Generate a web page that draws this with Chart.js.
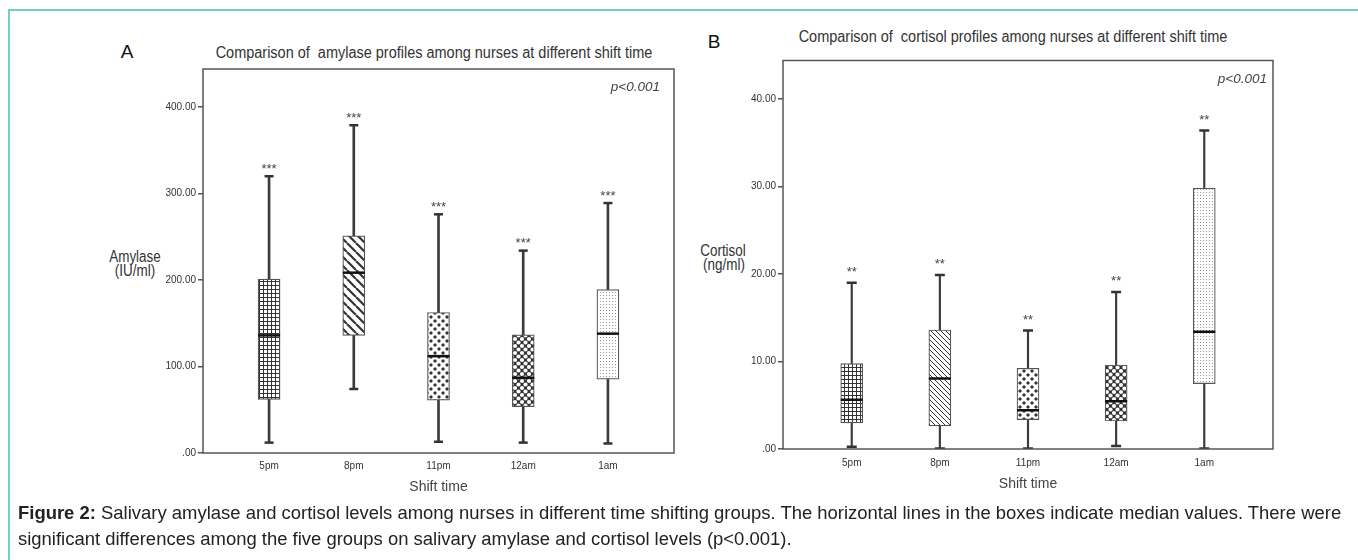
<!DOCTYPE html>
<html>
<head>
<meta charset="utf-8">
<script src="https://cdn.jsdelivr.net/npm/chart.js@4.4.1/dist/chart.umd.min.js"></script>
<style>
    body { margin: 0; background: #fff; width: 1358px; height: 560px; overflow: hidden; position: relative; font-family: "Liberation Sans", Arial, sans-serif; }
    .frame { position: absolute; left: 8px; top: 9px; width: 1400px; height: 600px; border-top: 2px solid #6cd3c4; border-left: 2px solid #6cd3c4; }
    .lbl { position: absolute; white-space: nowrap; transform: translate(-50%, -50%); color: #333; }
    .ttl { font-size: 16px; transform: translate(-50%, -50%) scaleX(0.905); }
    .ytl { font-size: 16px; transform: translate(-50%, -50%) scaleX(0.84); }
    .panel { font-size: 19px; color: #111; }
    canvas { position: absolute; }
    #caption { position: absolute; left: 18px; top: 500px; line-height: 26px; color: #222; white-space: nowrap; }
</style>
</head>
<body>
<div class="frame"></div>

<div class="lbl panel" style="left:127px; top:52px;">A</div>
<div class="lbl ttl" style="left:434px; top:53px;">Comparison of&nbsp; amylase profiles among nurses at different shift time</div>
<div class="lbl ytl" style="left:135px; top:257px;">Amylase</div>
<div class="lbl ytl" style="left:135px; top:271px;">(IU/ml)</div>

<div class="lbl panel" style="left:714px; top:42px;">B</div>
<div class="lbl ttl" style="left:1013px; top:37px;">Comparison of&nbsp; cortisol profiles among nurses at different shift time</div>
<div class="lbl ytl" style="left:723px; top:251px;">Cortisol</div>
<div class="lbl ytl" style="left:724px; top:265px;">(ng/ml)</div>

<canvas id="amylaseChart" width="600" height="470" style="left:95px; top:45px;"></canvas>
<canvas id="cortisolChart" width="620" height="480" style="left:680px; top:35px;"></canvas>

<div id="caption"><b>Figure 2:</b> Salivary amylase and cortisol levels among nurses in different time shifting groups. The horizontal lines in the boxes indicate median values. There were<br>significant differences among the five groups on salivary amylase and cortisol levels (p&lt;0.001).</div>

<script>
// 1. Data
const shifts = ['5pm', '8pm', '11pm', '12am', '1am'];

// A: salivary amylase (IU/ml)
const amyMin = [12, 74, 13, 12, 11];
const amyQ1 = [62, 136, 61, 53.5, 85.5];
const amyMedian = [136, 208.5, 112, 87, 138];
const amyQ3 = [201, 251, 162.5, 136.5, 189];
const amyMax = [320, 379, 276, 234, 289];
const amyTicks = [0, 100, 200, 300, 400];
const amyStars = ['***', '***', '***', '***', '***'];

// B: salivary cortisol (ng/ml)
const corMin = [0.26, 0.05, 0.05, 0.34, 0.05];
const corQ1 = [2.98, 2.64, 3.36, 3.2, 7.48];
const corMedian = [5.62, 8.05, 4.42, 5.45, 13.4];
const corQ3 = [9.77, 13.6, 9.22, 9.6, 29.8];
const corMax = [19.0, 19.9, 13.55, 17.95, 36.4];
const corTicks = [0, 10, 20, 30, 40];
const corStars = ['**', '**', '**', '**', '**'];

const SANS = '"Liberation Sans", Arial, sans-serif';

// 2. Hatch patterns (SPSS style fills)
function makePattern(kind, size) {
    const c = document.createElement('canvas');
    c.width = c.height = size;
    const g = c.getContext('2d');
    g.fillStyle = '#fff';
    g.fillRect(0, 0, size, size);
    g.fillStyle = g.strokeStyle = '#333';
    if (kind === 'grid') {
        g.fillRect(0, 0, size, 1);
        g.fillRect(0, 0, 1, size);
    } else if (kind === 'diag' || kind === 'diagFine') {
        g.lineWidth = kind === 'diag' ? 2.2 : 1;
        g.beginPath();
        for (let k = -1; k <= 1; k++) {
            g.moveTo(k * size, 0);
            g.lineTo(k * size + size, size);
        }
        g.stroke();
    } else if (kind === 'diamond') {
        const h = size / 4;
        [[0, 0], [size, 0], [0, size], [size, size], [size / 2, size / 2]].forEach(([px, py]) => {
            g.beginPath();
            g.moveTo(px, py - h); g.lineTo(px + h, py); g.lineTo(px, py + h); g.lineTo(px - h, py);
            g.closePath();
            g.fill();
        });
    } else if (kind === 'circles') {
        g.fillRect(0, 0, size, size);
        g.fillStyle = '#fff';
        [[0, 0], [size, 0], [0, size], [size, size], [size / 2, size / 2]].forEach(([px, py]) => {
            g.beginPath();
            g.arc(px, py, size * 0.3, 0, Math.PI * 2);
            g.fill();
        });
    } else if (kind === 'dots') {
        g.fillStyle = '#9a9a9a';
        g.fillRect(1, 1, 1, 1);
    }
    return g.createPattern(c, 'repeat');
}

// 3. Extra drawing: closed frame, significance stars, p value
const extrasPlugin = {
    id: 'extras',
    afterDatasetsDraw(chart, args, o) {
        const { ctx, chartArea: a, scales: { x, y } } = chart;
        ctx.save();
        ctx.strokeStyle = '#555';
        ctx.lineWidth = 1.5;
        ctx.strokeRect(a.left, a.top, a.width, a.height);

        ctx.fillStyle = '#444';
        ctx.textAlign = 'center';
        ctx.textBaseline = 'alphabetic';
        ctx.font = '13px ' + SANS;
        o.stars.forEach((s, i) => {
            ctx.fillText(s, x.getPixelForValue(i), y.getPixelForValue(o.max[i]) - o.starGap + 7.5);
        });

        ctx.textAlign = 'right';
        ctx.textBaseline = 'middle';
        ctx.font = 'italic 13.5px ' + SANS;
        ctx.fillText('p<0.001', a.right - o.pRight, a.top + 18.5);
        ctx.restore();
    }
};

// 4. Build one box plot panel
function boxPlot(canvasId, cfg) {
    const idx = shifts.map((s, i) => i);
    const at = arr => idx.map(i => ({ x: i, y: arr[i] }));

    return new Chart(document.getElementById(canvasId), {
        type: 'bar',
        data: {
            datasets: [
                { type: 'scatter', data: at(cfg.median), pointStyle: 'line', pointRadius: cfg.boxW / 2,
                  pointBorderWidth: 2.5, pointBorderColor: '#111', order: 0 },
                { type: 'scatter', data: at(cfg.min).concat(at(cfg.max)), pointStyle: 'line',
                  pointRadius: cfg.capW / 2, pointBorderWidth: cfg.capLw, pointBorderColor: '#333', order: 1 },
                { data: idx.map(i => ({ x: i, y: [cfg.q1[i], cfg.q3[i]] })), backgroundColor: cfg.fills,
                  borderColor: '#555', borderWidth: 1.2, borderSkipped: false, barThickness: cfg.boxW,
                  grouped: false, order: 2 },
                { data: idx.map(i => ({ x: i, y: [cfg.min[i], cfg.max[i]] })), backgroundColor: '#3c3c3c',
                  barThickness: cfg.whiskerW, grouped: false, order: 3 }
            ]
        },
        options: {
            responsive: false,
            animation: false,
            events: [],
            layout: { padding: cfg.padding },
            plugins: {
                legend: { display: false },
                tooltip: { enabled: false },
                extras: { stars: cfg.stars, max: cfg.max, starGap: cfg.starGap, pRight: cfg.pRight }
            },
            scales: {
                x: {
                    type: 'linear',
                    min: -0.78,
                    max: 4.78,
                    offset: false,
                    grid: { display: false, drawTicks: false, offset: false },
                    border: { display: false },
                    afterBuildTicks: s => { s.ticks = idx.map(i => ({ value: i })); },
                    afterFit: s => { s.height = cfg.xHeight; },
                    ticks: { autoSkip: false, maxRotation: 0, padding: cfg.xTickPad, color: '#333',
                             font: { family: SANS, size: 10 }, callback: v => shifts[v] },
                    title: { display: true, text: 'Shift time', color: '#444',
                             font: { family: SANS, size: 14 }, padding: { top: 0, bottom: cfg.titlePad } }
                },
                y: {
                    min: 0,
                    max: cfg.yMax,
                    grid: { drawOnChartArea: false, drawTicks: true, tickLength: 5, color: '#555', lineWidth: 1.5 },
                    border: { display: false },
                    afterBuildTicks: s => { s.ticks = cfg.ticks.map(v => ({ value: v })); },
                    afterFit: s => { s.width = cfg.yWidth; },
                    ticks: { padding: 2, color: '#333', font: { family: SANS, size: 10 },
                             callback: v => v === 0 ? '.00' : v.toFixed(2) }
                }
            }
        },
        plugins: [extrasPlugin]
    });
}

const amyFills = [makePattern('grid', 4), makePattern('diag', 9), makePattern('diamond', 8),
                  makePattern('circles', 7), makePattern('dots', 3)];
const corFills = [makePattern('grid', 4), makePattern('diagFine', 5), makePattern('diamond', 8),
                  makePattern('circles', 7), makePattern('dots', 3)];

boxPlot('amylaseChart', {
    min: amyMin, q1: amyQ1, median: amyMedian, q3: amyQ3, max: amyMax, ticks: amyTicks, stars: amyStars,
    yMax: 444, fills: amyFills, boxW: 22, capW: 9, capLw: 2.5, whiskerW: 2,
    padding: { left: 0, right: 21, top: 24, bottom: 0 },
    yWidth: 108, xHeight: 62, xTickPad: 7, titlePad: 19.5, starGap: 11, pRight: 14
});

boxPlot('cortisolChart', {
    min: corMin, q1: corQ1, median: corMedian, q3: corQ3, max: corMax, ticks: corTicks, stars: corStars,
    yMax: 44.4, fills: corFills, boxW: 22, capW: 10, capLw: 2.5, whiskerW: 1.5,
    padding: { left: 0, right: 27, top: 25.5, bottom: 0 },
    yWidth: 103, xHeight: 66, xTickPad: 8, titlePad: 22, starGap: 14, pRight: 6
});

// 5. Caption: fit the first line to the figure width
(function fitCaption() {
    const cap = document.getElementById('caption');
    const g = document.createElement('canvas').getContext('2d');
    const rest = ' Salivary amylase and cortisol levels among nurses in different time shifting groups. The horizontal lines in the boxes indicate median values. There were';
    g.font = 'bold 20px ' + SANS;
    let w = g.measureText('Figure 2:').width;
    g.font = '20px ' + SANS;
    w += g.measureText(rest).width;
    cap.style.fontSize = (20 * 1325 / w).toFixed(2) + 'px';
})();
</script>
</body>
</html>
